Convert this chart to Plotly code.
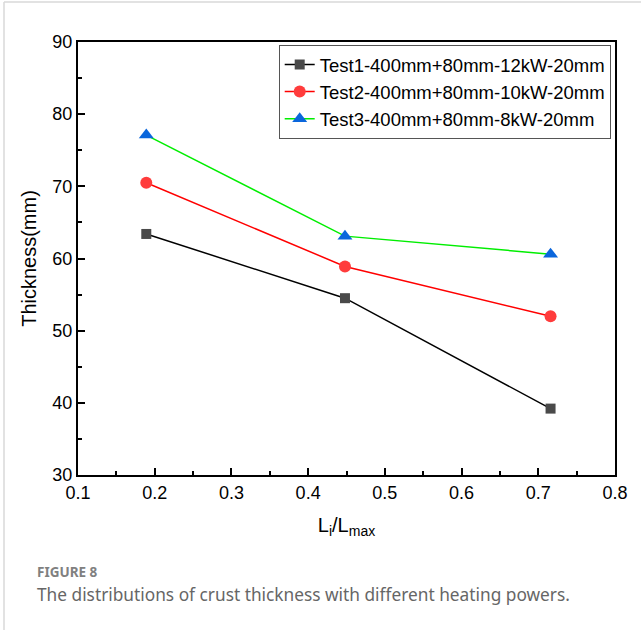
import plotly.graph_objects as go

x_vals = [0.189, 0.448, 0.716]
test1 = [63.4, 54.5, 39.2]
test2 = [70.5, 58.9, 52.0]
test3 = [77.1, 63.1, 60.6]
names = ["Test1-400mm+80mm-12kW-20mm", "Test2-400mm+80mm-10kW-20mm", "Test3-400mm+80mm-8kW-20mm"]

W, H = 641, 630
L, R, T, B = 78, 26, 42, 155
pw, ph = W - L - R, H - T - B

def px(xp):
    return (xp - L) / pw

def py(yp):
    return (H - B - yp) / ph

fig = go.Figure()
fig.add_trace(go.Scatter(x=x_vals, y=test1, name=names[0], mode="lines+markers",
                         line=dict(color="#000000", width=1.5),
                         marker=dict(symbol="square", size=10, color="#4a4a4a")))
fig.add_trace(go.Scatter(x=x_vals, y=test2, name=names[1], mode="lines+markers",
                         line=dict(color="#ff0000", width=1.5),
                         marker=dict(symbol="circle", size=12, color="#ff3c3c")))
fig.add_trace(go.Scatter(x=x_vals, y=test3, name=names[2], mode="lines+markers",
                         line=dict(color="#00ee00", width=1.5),
                         marker=dict(symbol="triangle-up", size=13, color="#0a66dc")))

axis_font = dict(family="Liberation Sans, Arial", size=18, color="#000")
fig.update_xaxes(range=[0.1, 0.8], dtick=0.1, tick0=0.1, showgrid=False, zeroline=False,
                 showline=True, linecolor="black", linewidth=2, mirror=True,
                 ticks="inside", ticklen=7, tickwidth=2, tickcolor="black",
                 minor=dict(ticks="inside", dtick=0.05, ticklen=4, tickwidth=2, tickcolor="black"),
                 tickfont=axis_font, tickformat=".1f",
                 title=dict(text="L<sub>i</sub>/L<sub>max</sub>", font=dict(family="Liberation Sans, Arial", size=20, color="#000"), standoff=16))
fig.update_yaxes(range=[30, 90], dtick=10, showgrid=False, zeroline=False,
                 showline=True, linecolor="black", linewidth=2, mirror=True,
                 ticks="inside", ticklen=7, tickwidth=2, tickcolor="black",
                 minor=dict(ticks="inside", dtick=5, ticklen=4, tickwidth=2, tickcolor="black"),
                 tickfont=axis_font,
                 title=dict(text="Thickness(mm)", font=dict(family="Liberation Sans, Arial", size=20, color="#000"), standoff=10))

fig.update_layout(
    width=W, height=H, margin=dict(l=L, r=R, t=T, b=B),
    paper_bgcolor="white", plot_bgcolor="white",
    legend=dict(x=0.992, y=0.993, xanchor="right", yanchor="top",
                bgcolor="white", bordercolor="#555", borderwidth=1,
                font=dict(family="Liberation Sans, Arial", size=18.5, color="#000"),
                tracegroupgap=0, itemwidth=30),
    showlegend=True,
)

# page frame lines
fig.add_shape(type="line", xref="paper", yref="paper", x0=px(4), x1=px(4), y0=py(2), y1=py(H),
              line=dict(color="#d9d9d9", width=1.5))
fig.add_shape(type="line", xref="paper", yref="paper", x0=px(4), x1=px(W), y0=py(2), y1=py(2),
              line=dict(color="#d9d9d9", width=1.5))

fig.add_annotation(text="<b>FIGURE 8</b>", xref="paper", yref="paper", x=px(35), y=py(572),
                   xanchor="left", yanchor="middle", showarrow=False,
                   font=dict(family="Noto Sans, Open Sans", size=13.5, color="#808080"))
fig.add_annotation(text="The distributions of crust thickness with different heating powers.",
                   xref="paper", yref="paper", x=px(35), y=py(594),
                   xanchor="left", yanchor="middle", showarrow=False,
                   font=dict(family="Noto Sans, Open Sans", size=17.3, color="#666"))

fig.write_html("out.html")
